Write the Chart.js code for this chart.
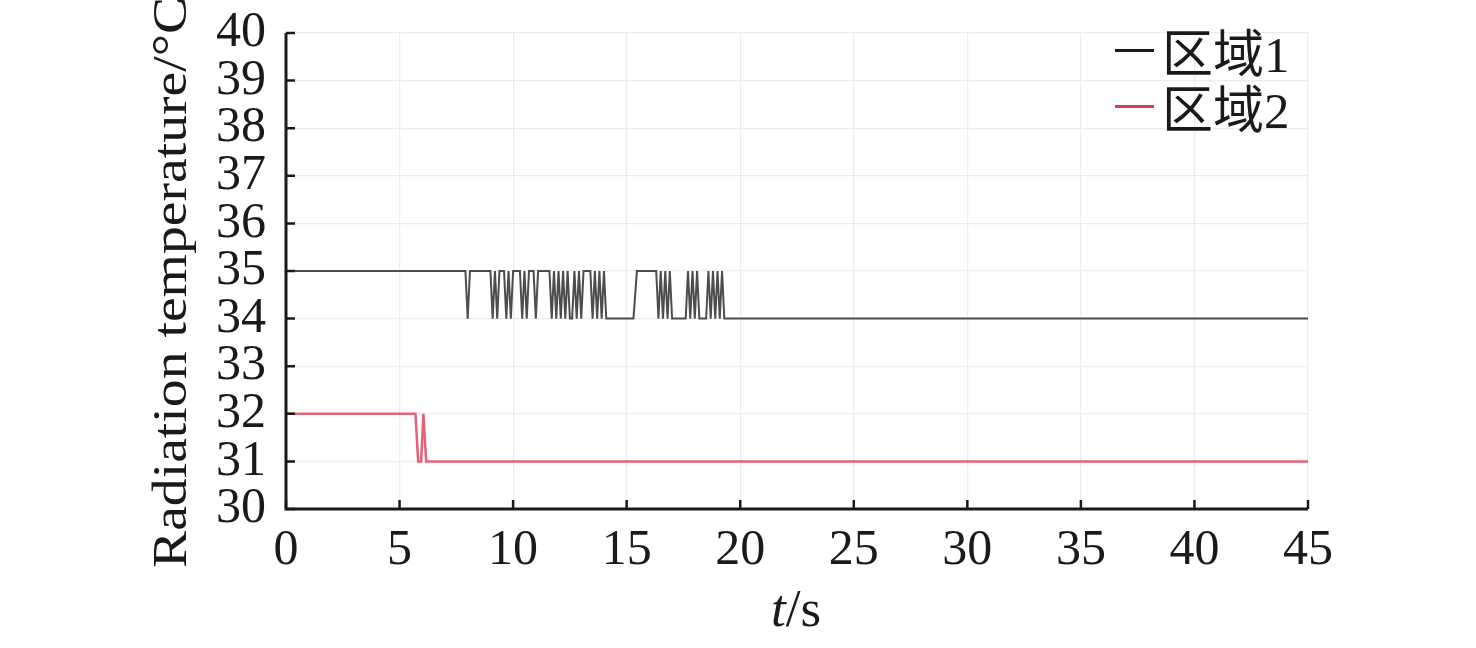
<!DOCTYPE html>
<html>
<head>
<meta charset="utf-8">
<script src="https://cdn.jsdelivr.net/npm/chart.js@4.4.0/dist/chart.umd.min.js"></script>
<style>
  html, body { margin: 0; padding: 0; background: #fff; }
  #wrap { position: relative; width: 1476px; height: 648px; overflow: hidden; }
  canvas { position: absolute; left: 0; top: 0; }
  .serif { font-family: "Liberation Serif", "Noto Sans CJK SC", serif; color: #1a1a1a; }
  #ytitle { position: absolute; left: 146px; top: 568px; font-size: 48px; white-space: nowrap;
            transform: rotate(-90deg) scaleX(1.16); transform-origin: left top; line-height: 48px; }
  #xtitle { position: absolute; left: 0; width: 1592px; top: 582px; text-align: center; font-size: 53px; line-height: 53px; }
  #legend { position: absolute; left: 1115px; top: 22px; font-size: 51px; }
  .item { display: flex; align-items: center; height: 56px; }
  .swatch { width: 39px; height: 3px; margin-right: 8px; }
</style>
</head>
<body>
<div id="wrap">
  <canvas id="c" width="1476" height="648"></canvas>
  <div id="ytitle" class="serif">Radiation temperature/°C</div>
  <div id="xtitle" class="serif"><i>t</i>/s</div>
  <div id="legend" class="serif"></div>
</div>
<script>
// ---- data ----
const seriesNames = ['区域1', '区域2'];
const seriesColors = ['#4d4d4f', '#e4637b'];
const legendColors = ['#1a1a1a', '#d83c58'];

const region1Times = [0, 7.9, 8.0, 8.1,
  9.0, 9.1, 9.2, 9.3, 9.4,
  9.6, 9.7, 9.8, 9.9, 10.0,
  10.3, 10.4, 10.5, 10.6, 10.7,
  10.9, 11.0, 11.1, 11.6, 11.7, 11.8,
  11.9, 12.0, 12.1, 12.2, 12.3, 12.4, 12.5,
  12.6, 12.7, 12.8, 12.9, 13.0, 13.1,
  13.4, 13.5, 13.6, 13.7, 13.8, 13.9, 14.0, 14.1,
  15.3, 15.45, 16.3, 16.4, 16.5, 16.6, 16.7, 16.8, 16.9, 17.0,
  17.6, 17.7, 17.8, 17.9, 18.0, 18.1, 18.2,
  18.5, 18.6, 18.7, 18.8, 18.9, 19.0, 19.1, 19.2, 19.3,
  45];
const region1Temps = [35, 35, 34, 35,
  35, 34, 35, 34, 35,
  35, 34, 35, 34, 35,
  35, 34, 35, 34, 35,
  35, 34, 35, 35, 34, 35,
  34, 35, 34, 35, 34, 35, 34,
  34, 35, 34, 35, 34, 35,
  35, 34, 35, 34, 35, 34, 35, 34,
  34, 35, 35, 34, 35, 34, 35, 34, 35, 34,
  34, 35, 34, 35, 34, 35, 34,
  34, 35, 34, 35, 34, 35, 34, 35, 34,
  34];

const region2Times = [0, 5.7, 5.82, 5.95, 6.05, 6.17, 45];
const region2Temps = [32, 32, 31, 31, 32, 31, 31];

const xTicks = [0, 5, 10, 15, 20, 25, 30, 35, 40, 45];
const yTicks = [30, 31, 32, 33, 34, 35, 36, 37, 38, 39, 40];

// ---- build ----
const toPoints = (ts, vs) => ts.map((t, i) => ({ x: t, y: vs[i] }));
const allSeries = [toPoints(region1Times, region1Temps), toPoints(region2Times, region2Temps)];

const legend = document.getElementById('legend');
seriesNames.forEach((n, i) => {
  const d = document.createElement('div');
  d.className = 'item';
  d.innerHTML = '<span class="swatch" style="background:' + legendColors[i] + '"></span><span>' + n + '</span>';
  legend.appendChild(d);
});

const tickFont = { family: '"Liberation Serif", serif', size: 50 };

const innerTicks = {
  id: 'innerTicks',
  afterDraw(chart) {
    const ctx = chart.ctx;
    const xs = chart.scales.x, ys = chart.scales.y;
    const a = chart.chartArea;
    ctx.save();
    ctx.strokeStyle = '#1a1a1a';
    ctx.lineWidth = 3;
    ctx.beginPath();
    ctx.moveTo(a.left, a.top);
    ctx.lineTo(a.left, a.bottom);
    ctx.lineTo(a.right, a.bottom);
    ctx.stroke();
    ctx.lineWidth = 2.5;
    ctx.beginPath();
    xTicks.forEach(v => { const p = xs.getPixelForValue(v); ctx.moveTo(p, a.bottom); ctx.lineTo(p, a.bottom - 9); });
    yTicks.forEach(v => { const p = ys.getPixelForValue(v); ctx.moveTo(a.left, p); ctx.lineTo(a.left + 9, p); });
    ctx.stroke();
    ctx.restore();
  }
};

new Chart(document.getElementById('c'), {
  type: 'scatter',
  data: {
    datasets: allSeries.map((pts, i) => ({
      label: seriesNames[i],
      data: pts,
      showLine: true,
      borderColor: seriesColors[i],
      backgroundColor: seriesColors[i],
      borderWidth: i === 0 ? 2 : 2.5,
      pointRadius: 0,
      tension: 0
    }))
  },
  options: {
    responsive: false,
    animation: false,
    layout: { padding: { left: 0, top: 33, right: 1476 - 1308, bottom: 0 } },
    plugins: { legend: { display: false }, tooltip: { enabled: false } },
    scales: {
      x: {
        type: 'linear', min: 0, max: 45,
        afterBuildTicks: s => { s.ticks = xTicks.map(v => ({ value: v })); },
        afterFit: s => { s.height = 648 - 509; s.paddingLeft = 0; s.paddingRight = 0; },
        grid: { color: '#ececec', lineWidth: 1.2, drawTicks: false },
        border: { display: false },
        ticks: { font: tickFont, color: '#1a1a1a', padding: 12, autoSkip: false, maxRotation: 0 }
      },
      y: {
        type: 'linear', min: 30, max: 40,
        afterBuildTicks: s => { s.ticks = yTicks.map(v => ({ value: v })); },
        afterFit: s => { s.width = 286; s.paddingTop = 0; s.paddingBottom = 0; },
        grid: { color: '#ececec', lineWidth: 1.2, drawTicks: false },
        border: { display: false },
        ticks: { font: tickFont, color: '#1a1a1a', padding: 20, autoSkip: false }
      }
    }
  },
  plugins: [innerTicks]
});
</script>
</body>
</html>
